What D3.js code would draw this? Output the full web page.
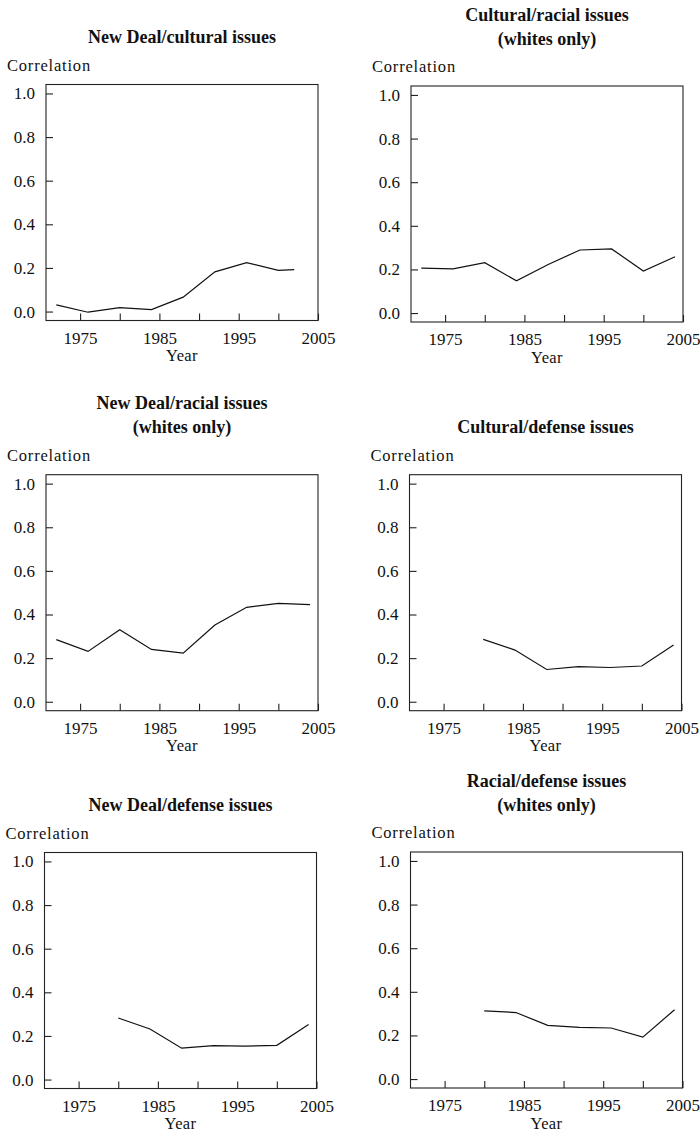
<!DOCTYPE html>
<html>
<head>
<meta charset="utf-8">
<script src="https://cdn.jsdelivr.net/npm/d3@7"></script>
<style>
  body { margin: 0; background: #fff; }
  svg text { font-family: "Liberation Serif", "DejaVu Serif", "Times New Roman", serif !important; fill: #111; }
</style>
</head>
<body>
<script>
// data
var yearsAll = [1972, 1976, 1980, 1984, 1988, 1992, 1996, 2000, 2004];
var yearsNewDealCultural = [1972, 1976, 1980, 1984, 1988, 1992, 1996, 2000, 2002];
var yearsDefense = [1980, 1984, 1988, 1992, 1996, 2000, 2004];

var newDealCultural = [0.031, -0.003, 0.018, 0.009, 0.066, 0.182, 0.224, 0.189, 0.192];
var culturalRacial = [0.206, 0.203, 0.231, 0.148, 0.223, 0.289, 0.294, 0.193, 0.258];
var newDealRacial = [0.285, 0.231, 0.330, 0.240, 0.223, 0.352, 0.433, 0.451, 0.445];
var culturalDefense = [0.286, 0.237, 0.148, 0.161, 0.157, 0.164, 0.260];
var newDealDefense = [0.282, 0.232, 0.144, 0.156, 0.153, 0.157, 0.252];
var racialDefense = [0.313, 0.305, 0.246, 0.237, 0.234, 0.192, 0.318];

var xTicks = [1975, 1980, 1985, 1990, 1995, 2000, 2005];
var xLabels = [1975, 1985, 1995, 2005];
var yTicks = [0, 0.2, 0.4, 0.6, 0.8, 1.0];

var panels = [
  { title: ["New Deal/cultural issues"], years: yearsNewDealCultural, values: newDealCultural },
  { title: ["Cultural/racial issues", "(whites only)"], years: yearsAll, values: culturalRacial },
  { title: ["New Deal/racial issues", "(whites only)"], years: yearsAll, values: newDealRacial },
  { title: ["Cultural/defense issues"], years: yearsDefense, values: culturalDefense },
  { title: ["New Deal/defense issues"], years: yearsDefense, values: newDealDefense },
  { title: ["Racial/defense issues", "(whites only)"], years: yearsDefense, values: racialDefense }
];

// frame positions for each panel
var frames = [
  { left: 46, top: 84.5 },
  { left: 411, top: 86 },
  { left: 46, top: 474.7 },
  { left: 409.5, top: 474.7 },
  { left: 44.5, top: 852.5 },
  { left: 410.5, top: 852 }
];
var frameW = 272;
var frameH = 236;

var svg = d3.select("body").append("svg")
    .attr("width", 700)
    .attr("height", 1141);

panels.forEach(function(p, i) {
  var f = frames[i];
  var g = svg.append("g")
      .attr("transform", `translate(${f.left}, ${f.top})`);

  var x = d3.scaleLinear()
      .domain([1970.7, 2005])
      .range([0, frameW]);
  var y = d3.scaleLinear()
      .domain([-0.041, 1.041])
      .range([frameH, 0]);

  // frame
  g.append("rect")
      .attr("x", 0).attr("y", 0)
      .attr("width", frameW).attr("height", frameH)
      .attr("fill", "none")
      .attr("stroke", "#222")
      .attr("stroke-width", 1.1);

  // axes, ticks pointing inward
  var bottomAxis = d3.axisBottom(x)
      .tickValues(xTicks)
      .tickSizeInner(-7)
      .tickSizeOuter(0)
      .tickPadding(11)
      .tickFormat(d => xLabels.indexOf(d) >= 0 ? d : "");
  var leftAxis = d3.axisLeft(y)
      .tickValues(yTicks)
      .tickSizeInner(-7)
      .tickSizeOuter(0)
      .tickPadding(11)
      .tickFormat(d3.format(".1f"));

  var xa = g.append("g").attr("transform", `translate(0, ${frameH})`).call(bottomAxis);
  var ya = g.append("g").call(leftAxis);
  [xa, ya].forEach(function(a) {
    a.attr("font-family", null);
    a.select(".domain").remove();
    a.selectAll("line").attr("stroke", "#222").attr("stroke-width", 1.1);
    a.selectAll("text")
        .style("font-size", "17px")
        .attr("fill", "#111");
  });

  // line
  var line = d3.line()
      .x((d, j) => x(p.years[j]))
      .y(d => y(d));
  g.append("path")
      .datum(p.values)
      .attr("d", line)
      .attr("fill", "none")
      .attr("stroke", "#111")
      .attr("stroke-width", 1.2);

  // title
  var n = p.title.length;
  p.title.forEach(function(t, k) {
    g.append("text")
        .attr("x", frameW / 2)
        .attr("y", -41.5 - (n - 1 - k) * 24)
        .attr("text-anchor", "middle")
        .style("font-weight", "bold")
        .style("font-size", "18px")
        .text(t);
  });

  // axis titles
  g.append("text")
      .attr("x", -39)
      .attr("y", -14)
      .style("font-size", "16.5px")
      .style("letter-spacing", "0.8px")
      .text("Correlation");

  g.append("text")
      .attr("x", frameW / 2)
      .attr("y", frameH + 40.5)
      .attr("text-anchor", "middle")
      .style("font-size", "16.5px")
      .style("letter-spacing", "0.4px")
      .text("Year");
});
</script>
</body>
</html>
